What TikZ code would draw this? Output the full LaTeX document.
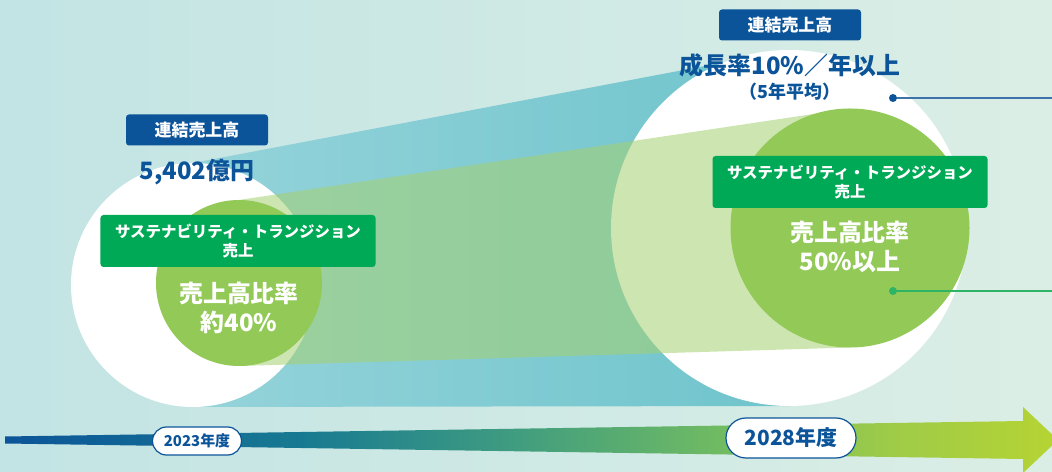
\documentclass[tikz,border=0pt]{standalone}
\usepackage{fontspec}
\setmainfont{Noto Sans CJK JP}
\usetikzlibrary{shapes.misc}

\definecolor{navy}{HTML}{0B5499}
\definecolor{boxgreen}{HTML}{00A956}
\definecolor{leaf}{HTML}{92C957}
\definecolor{beamteal}{HTML}{6FC4CC}
\definecolor{beamlight}{HTML}{95D3DA}
\definecolor{beamgreen}{HTML}{A5D070}
\definecolor{bgleft}{HTML}{C2E4E4}
\definecolor{bgright}{HTML}{DBEEE5}
\definecolor{leadblue}{HTML}{3D72AA}
\definecolor{leadgreen}{HTML}{2DB465}
\definecolor{tlblue}{HTML}{0B5499}
\definecolor{tlteal}{HTML}{187A92}
\definecolor{tlsea}{HTML}{3F9C80}
\definecolor{tlgreen}{HTML}{70BB62}
\definecolor{tlolive}{HTML}{9ECB48}
\definecolor{tllime}{HTML}{B6D433}

\pgfdeclarehorizontalshading{timeline}{100bp}{color(0bp)=(tlblue); color(25bp)=(tlblue); color(39bp)=(tlteal); color(49bp)=(tlsea); color(59bp)=(tlgreen); color(67bp)=(tlolive); color(75bp)=(tllime); color(100bp)=(tllime)}

\pgfdeclarelayer{back}
\pgfdeclarelayer{mid}
\pgfsetlayers{back,mid,main}

\begin{document}
\begin{tikzpicture}[x=1bp,y=-1bp,
    disc/.style={circle,inner sep=0pt,outer sep=0pt},
    salesbox/.style={fill=navy,text=white,rounded corners=3bp,minimum width=142bp,
      minimum height=31bp,inner sep=0pt,font=\bfseries\fontsize{17}{20}\selectfont},
    stbox/.style={fill=boxgreen,text=white,rounded corners=3bp,minimum width=275bp,
      minimum height=52bp,inner sep=0pt,align=center,font=\bfseries\fontsize{15.5}{20}\selectfont},
    amount/.style={text=navy,inner sep=0pt,font=\bfseries\fontsize{24}{28}\selectfont},
    ratiotext/.style={text=white,align=center,inner sep=0pt,font=\bfseries\fontsize{24}{29}\selectfont},
    pill/.style={rounded rectangle,draw=navy,line width=1.2bp,fill=white,text=navy,inner sep=0pt},
    dot/.style={circle,inner sep=0pt,minimum size=8bp},
    lead/.style={line width=1.5bp}]
  \useasboundingbox (0,0) rectangle (1052,472);
  \begin{pgfonlayer}{back}
    \shade[left color=bgleft,right color=bgright] (0,0) rectangle (1052,472);
  \end{pgfonlayer}

  \begin{pgfonlayer}{mid}
    \node[disc,fill=white,minimum size=244bp] (lw) at (193,285) {};
    \node[disc,fill=white,minimum size=356bp] (rw) at (789,228) {};
  \end{pgfonlayer}
  \node[disc,fill=leaf,minimum size=166bp] (lg) at (239,283) {};
  \node[disc,fill=leaf,minimum size=239bp] (rg) at (850,228) {};

  \begin{pgfonlayer}{back}
    \shade[left color=beamlight,right color=beamteal]
      (lw.north) -- (rw.north) -- (rw.south) -- (lw.south) -- cycle;
  \end{pgfonlayer}
  \begin{pgfonlayer}{mid}
    \fill[beamgreen,opacity=0.55]
      (lg.north) -- (rg.north) -- (rg.south) -- (lg.south) -- cycle;
  \end{pgfonlayer}

  \node[salesbox] (lsales) at (197,130) {連結売上高};
  \node[amount] (lamount) at (197,172) {5,402億円};
  \node[stbox] (lst) at (238,241) {サステナビリティ・トランジション\\売上};
  \node[ratiotext] (lratio) at (239,308) {売上高比率\\約40\%};

  \node[salesbox] (rsales) at (790,25) {連結売上高};
  \node[amount] (rgrowth) at (790,65) {成長率10\%／年以上};
  \node[amount,font=\bfseries\fontsize{18}{20}\selectfont] (ravg) at (790,92) {（5年平均）};
  \node[stbox] (rst) at (850,182) {サステナビリティ・トランジション\\売上};
  \node[ratiotext] (rratio) at (850,247) {売上高比率\\50\%以上};

  \node[dot,fill=navy] (bdot) at (893,98) {};
  \coordinate (bend) at (1052,98);
  \draw[lead,leadblue] (bdot) -- (bend);
  \node[dot,fill=leadgreen] (gdot) at (893,291) {};
  \coordinate (gend) at (1052,291);
  \draw[lead,leadgreen] (gdot) -- (gend);

  \shade[shading=timeline] (5,436.5) -- (1023,421) -- (1023,407) -- (1058,440)
    -- (1023,473) -- (1023,459) -- (5,443.5) -- cycle;
  \node[pill,minimum width=89bp,minimum height=28bp,font=\bfseries\fontsize{15}{18}\selectfont] (y23) at (197,441) {2023年度};
  \node[pill,minimum width=130bp,minimum height=40bp,font=\bfseries\fontsize{21}{24}\selectfont] (y28) at (791,438) {2028年度};
\end{tikzpicture}
\end{document}
